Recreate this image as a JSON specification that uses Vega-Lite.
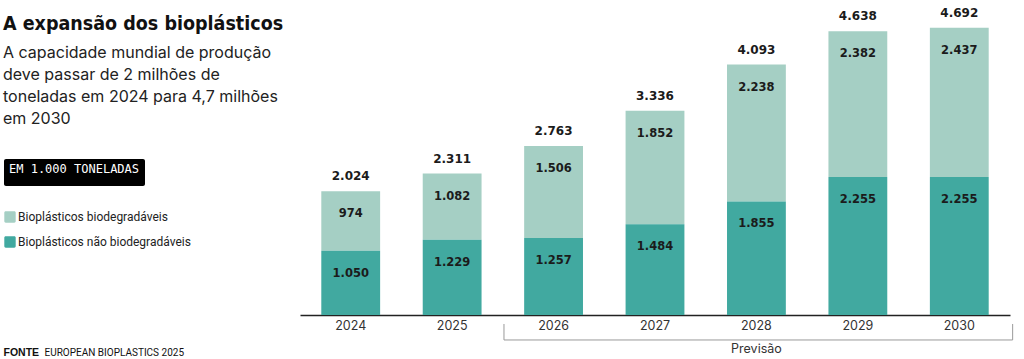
{
  "$schema": "https://vega.github.io/schema/vega-lite/v6.json",
  "width": 710,
  "height": 306,
  "autosize": {"type": "none"},
  "padding": {"left": 300, "top": 9, "right": 14, "bottom": 44},
  "background": "white",
  "config": {
    "view": {"stroke": null},
    "locale": {"number": {"decimal": ",", "thousands": ".", "grouping": [3], "currency": ["", ""]}}
  },
  "title": {
    "text": "A expansão dos bioplásticos",
    "subtitle": ["A capacidade mundial de produção", "deve passar de 2 milhões de", "toneladas em 2024 para 4,7 milhões", "em 2030"],
    "anchor": "start",
    "frame": "group",
    "dx": -297,
    "dy": 125,
    "font": "DejaVu Sans Condensed, sans-serif",
    "fontSize": 19.5,
    "fontWeight": "bold",
    "color": "#111111",
    "subtitleFont": "Inter",
    "subtitleFontSize": 16,
    "subtitleColor": "#222222",
    "subtitleLineHeight": 22,
    "subtitlePadding": 10
  },
  "datasets": {
    "producao": [
      {"ano": "2024", "tipo": "Bioplásticos biodegradáveis", "valor": 974},
      {"ano": "2024", "tipo": "Bioplásticos não biodegradáveis", "valor": 1050},
      {"ano": "2025", "tipo": "Bioplásticos biodegradáveis", "valor": 1082},
      {"ano": "2025", "tipo": "Bioplásticos não biodegradáveis", "valor": 1229},
      {"ano": "2026", "tipo": "Bioplásticos biodegradáveis", "valor": 1506},
      {"ano": "2026", "tipo": "Bioplásticos não biodegradáveis", "valor": 1257},
      {"ano": "2027", "tipo": "Bioplásticos biodegradáveis", "valor": 1852},
      {"ano": "2027", "tipo": "Bioplásticos não biodegradáveis", "valor": 1484},
      {"ano": "2028", "tipo": "Bioplásticos biodegradáveis", "valor": 2238},
      {"ano": "2028", "tipo": "Bioplásticos não biodegradáveis", "valor": 1855},
      {"ano": "2029", "tipo": "Bioplásticos biodegradáveis", "valor": 2382},
      {"ano": "2029", "tipo": "Bioplásticos não biodegradáveis", "valor": 2255},
      {"ano": "2030", "tipo": "Bioplásticos biodegradáveis", "valor": 2437},
      {"ano": "2030", "tipo": "Bioplásticos não biodegradáveis", "valor": 2255}
    ],
    "totais": [
      {"ano": "2024", "total": 2024},
      {"ano": "2025", "total": 2311},
      {"ano": "2026", "total": 2763},
      {"ano": "2027", "total": 3336},
      {"ano": "2028", "total": 4093},
      {"ano": "2029", "total": 4638},
      {"ano": "2030", "total": 4692}
    ],
    "previsao": [{"rotulo": "Previsão"}],
    "unidade": [{"unidade": "EM 1.000 TONELADAS"}]
  },
  "layer": [
    {
      "data": {"name": "producao"},
      "mark": {"type": "bar"},
      "encoding": {
        "x": {
          "field": "ano", "type": "ordinal",
          "scale": {"paddingInner": 0.42, "paddingOuter": 0.21},
          "axis": {
            "title": "EUROPEAN BIOPLASTICS 2025",
            "titleX": -256, "titleY": 40, "titleAlign": "left", "titleBaseline": "alphabetic",
            "titleFont": "Roboto", "titleFontSize": 10, "titleFontWeight": "normal", "titleColor": "#111111",
            "domain": true, "domainColor": "#222222", "domainWidth": 1.5,
            "ticks": false, "labelAngle": 0, "labelPadding": 4,
            "labelFont": "Inter", "labelFontSize": 12.5, "labelColor": "#333333"
          }
        },
        "y": {
          "field": "valor", "type": "quantitative", "stack": "zero",
          "scale": {"domain": [0, 5000], "nice": false},
          "axis": {
            "title": "FONTE", "domain": false, "ticks": false, "labels": false, "grid": false,
            "titleAngle": 0, "titleX": -297, "titleY": 346, "titleAlign": "left", "titleBaseline": "alphabetic",
            "titleFont": "Liberation Sans", "titleFontWeight": "bold", "titleFontSize": 10.5, "titleColor": "#111111"
          }
        },
        "color": {
          "field": "tipo", "type": "nominal",
          "scale": {"domain": ["Bioplásticos biodegradáveis", "Bioplásticos não biodegradáveis"], "range": ["#a5cfc4", "#41a9a0"]},
          "legend": {
            "title": null, "orient": "none", "legendX": -296, "legendY": 202, "padding": 0,
            "symbolType": "M-0.75,-1 H0.75 A0.25,0.25 0 0 1 1,-0.75 V0.75 A0.25,0.25 0 0 1 0.75,1 H-0.75 A0.25,0.25 0 0 1 -1,0.75 V-0.75 A0.25,0.25 0 0 1 -0.75,-1 Z",
            "symbolSize": 130, "symbolStrokeWidth": 0,
            "labelFont": "Roboto", "labelFontSize": 12, "labelColor": "#222222", "labelLimit": 300,
            "labelOffset": 2, "rowPadding": 13
          }
        },
        "order": {"field": "tipo", "sort": "descending"}
      }
    },
    {
      "data": {"name": "producao"},
      "mark": {"type": "text", "font": "DejaVu Sans", "fontWeight": "bold", "fontSize": 11.5, "color": "#1b1b1b", "baseline": "middle", "dy": 23},
      "encoding": {
        "x": {"field": "ano", "type": "ordinal"},
        "y": {"field": "valor", "type": "quantitative", "stack": "zero"},
        "detail": {"field": "tipo"},
        "order": {"field": "tipo", "sort": "descending"},
        "text": {"field": "valor", "type": "quantitative", "format": ",.0f"}
      }
    },
    {
      "data": {"name": "totais"},
      "mark": {"type": "text", "font": "DejaVu Sans", "fontWeight": "bold", "fontSize": 12, "color": "#1b1b1b", "baseline": "middle", "dy": -15},
      "encoding": {
        "x": {"field": "ano", "type": "ordinal"},
        "y": {"field": "total", "type": "quantitative", "axis": {"title": "FONTE"}},
        "text": {"field": "total", "type": "quantitative", "format": ",.0f"}
      }
    },
    {
      "data": {"name": "previsao"},
      "mark": {"type": "rule", "color": "#9a9a9a", "strokeWidth": 1},
      "encoding": {
        "x": {"datum": "2026", "type": "ordinal", "bandPosition": -0.343},
        "x2": {"datum": "2030", "bandPosition": 1.407},
        "y": {"datum": -408, "type": "quantitative"}
      }
    },
    {
      "data": {"name": "previsao"},
      "mark": {"type": "rule", "color": "#9a9a9a", "strokeWidth": 1},
      "encoding": {
        "x": {"datum": "2026", "type": "ordinal", "bandPosition": -0.343},
        "y": {"datum": -147, "type": "quantitative"},
        "y2": {"datum": -408}
      }
    },
    {
      "data": {"name": "previsao"},
      "mark": {"type": "rule", "color": "#9a9a9a", "strokeWidth": 1},
      "encoding": {
        "x": {"datum": "2030", "type": "ordinal", "bandPosition": 1.407},
        "y": {"datum": -147, "type": "quantitative"},
        "y2": {"datum": -408}
      }
    },
    {
      "data": {"name": "previsao"},
      "mark": {"type": "text", "font": "Inter", "fontSize": 12.5, "color": "#333333", "baseline": "middle"},
      "encoding": {
        "x": {"datum": "2028", "type": "ordinal"},
        "y": {"datum": -556, "type": "quantitative"},
        "text": {"field": "rotulo"}
      }
    },
    {
      "data": {"name": "unidade"},
      "mark": {"type": "point", "opacity": 0},
      "encoding": {
        "shape": {
          "field": "unidade", "type": "nominal",
          "legend": {
            "title": "EM 1.000 TONELADAS", "orient": "none", "legendX": -296, "legendY": 150,
            "fillColor": "#000000", "padding": 5, "cornerRadius": 2,
            "titleColor": "#ffffff", "titleFont": "DejaVu Sans Mono", "titleFontSize": 12, "titleFontWeight": "normal", "titlePadding": 0,
            "symbolSize": 0, "symbolOpacity": 0, "labelFontSize": 0, "labelExpr": "''", "rowPadding": 0
          }
        }
      }
    }
  ]
}
